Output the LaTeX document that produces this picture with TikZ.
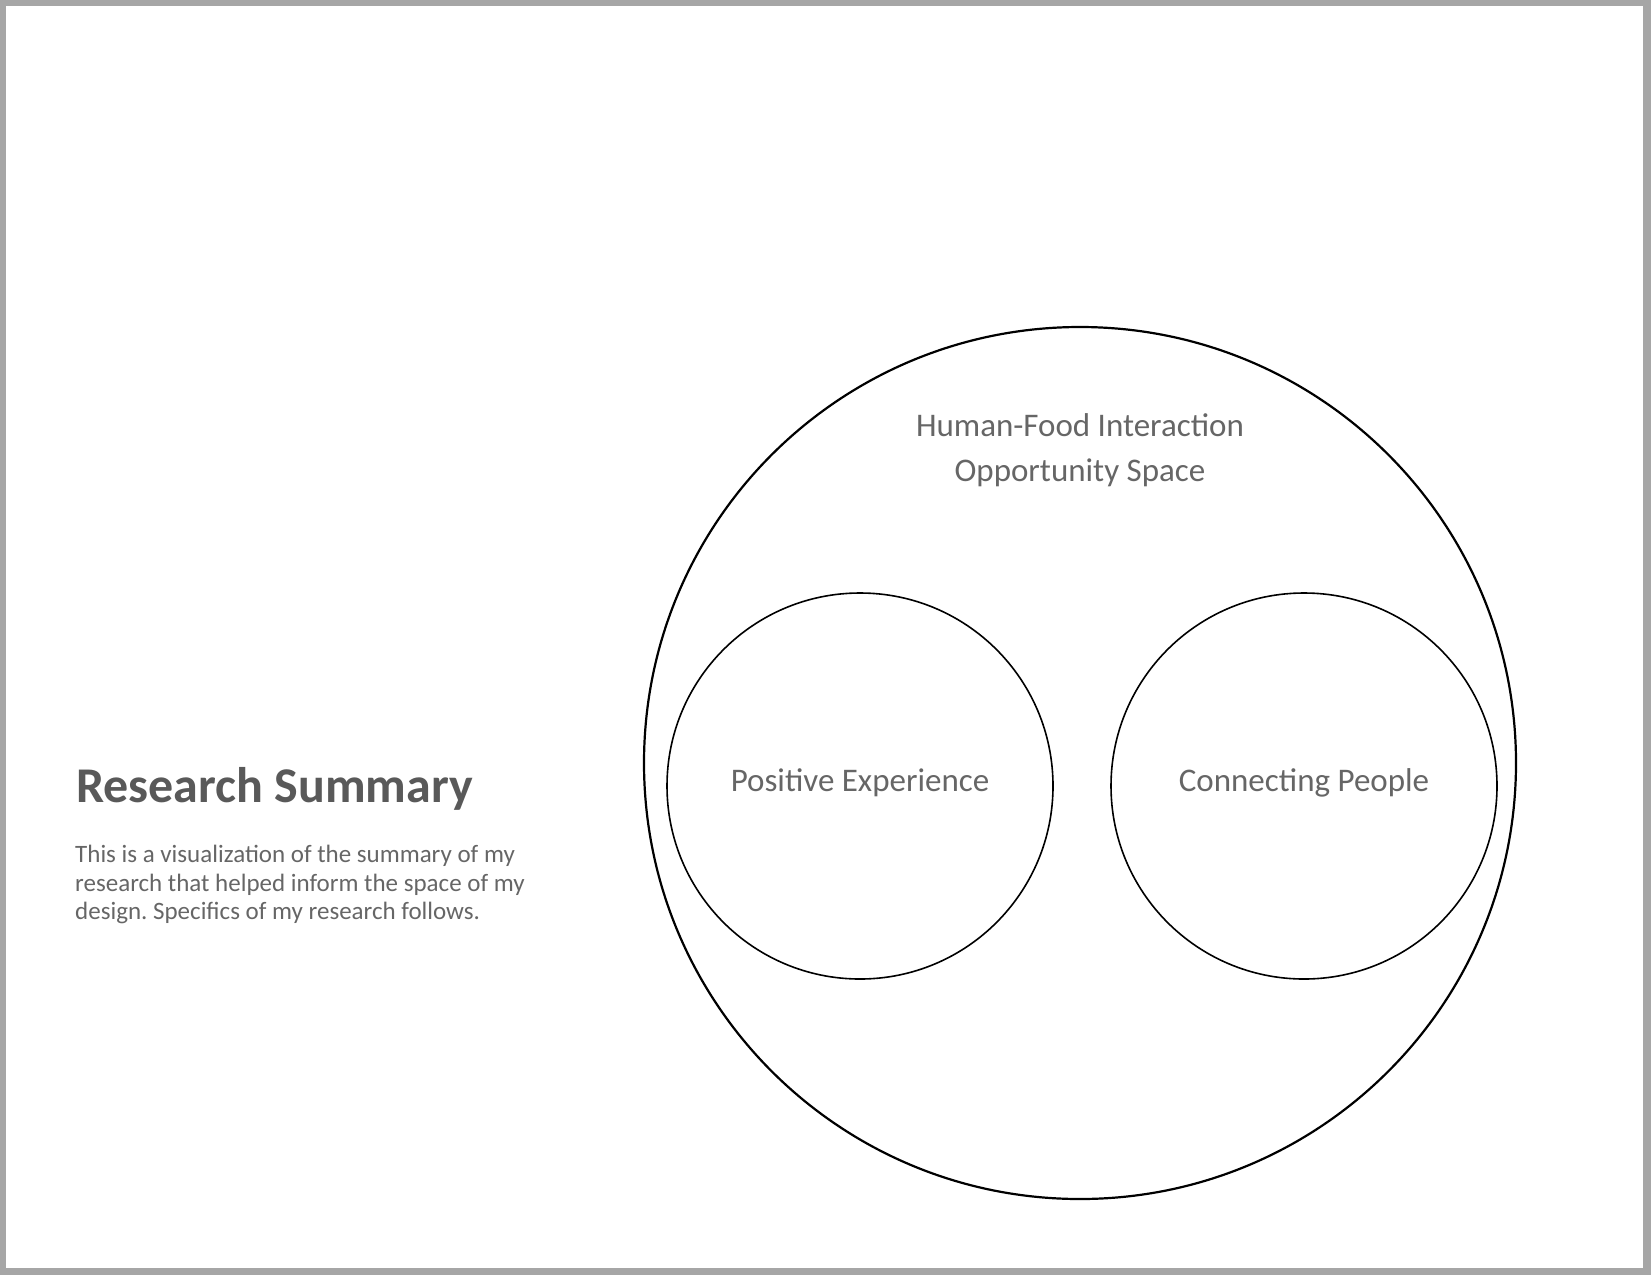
\documentclass[tikz,border=0pt]{standalone}
\usepackage{fontspec}
\setmainfont{Carlito}
\frenchspacing
\definecolor{framegray}{HTML}{A6A6A6}
\definecolor{titlegray}{HTML}{595959}
\definecolor{textgray}{HTML}{666666}
\begin{document}
\begin{tikzpicture}[x=1pt,y=-1pt,
  bigcirc/.style={circle,draw=black,line width=2.2pt,minimum size=872pt,inner sep=0pt},
  smallcirc/.style={circle,draw=black,line width=1.6pt,minimum size=386pt,inner sep=0pt},
  lbl/.style={anchor=base,inner sep=0pt,text=textgray,font=\fontsize{33}{45}\selectfont},
  body/.style={anchor=base west,inner sep=0pt,text=textgray,font=\fontsize{25}{29}\selectfont},
  ttl/.style={anchor=base west,inner sep=0pt,text=titlegray,font=\fontsize{50}{60}\selectfont\bfseries}]
\useasboundingbox (0,0) rectangle (1651,1275);
\fill[framegray] (0,0) rectangle (1651,1275);
\fill[white] (6,6) rectangle (1643,1268);
\node[bigcirc] (outer) at (1080,763) {};
\node[smallcirc] (pos) at (860,786) {};
\node[smallcirc] (conn) at (1304,786) {};
\node[lbl] (hfi1) at (1080,436) {Human-Food Interaction};
\node[lbl] (hfi2) at (1080,481) {Opportunity Space};
\node[lbl] (poslbl) at (860,791) {Positive Experience};
\node[lbl] (connlbl) at (1304,791) {Connecting People};
\node[ttl] (title) at (76,802) {Research Summary};
\node[body] (b1) at (75,862) {This is a visualization of the summary of my};
\node[body] (b2) at (75,891) {research that helped inform the space of my};
\node[body] (b3) at (75,919) {design. Specifics of my research follows.};
\end{tikzpicture}
\end{document}
